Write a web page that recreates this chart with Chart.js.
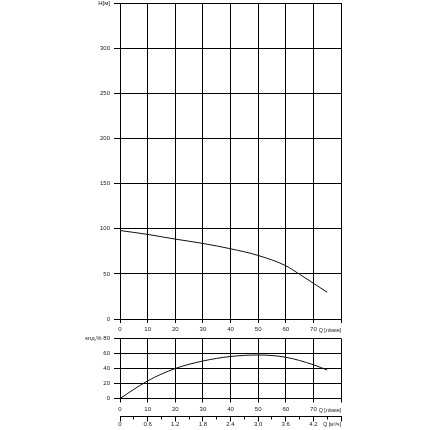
<!DOCTYPE html>
<html>
<head>
<meta charset="utf-8">
<script src="https://cdn.jsdelivr.net/npm/chart.js"></script>
<style>
  html, body { margin: 0; padding: 0; background: #fff; overflow: hidden; }
  canvas { position: absolute; left: 0; }
  #headChart { top: 0; }
  #effChart { top: 333px; }
</style>
</head>
<body>
<canvas id="headChart" width="430" height="335"></canvas>
<canvas id="effChart" width="430" height="97"></canvas>
<script>
// Pump curve: head and efficiency against flow (l/min)
const headFlow = [0, 10, 20, 30, 40, 50, 60, 65, 70, 75];
const headM = [98, 93.7, 88.5, 83.7, 77.8, 70.4, 59, 49.5, 39.6, 29.6];
const effFlow = [0, 10, 20, 30, 40, 50, 60, 70, 75];
const effPct = [0, 23.5, 40, 50, 56, 58, 55, 45, 38];

const flowTitle = 'Q [л/мин]';
const cubicTitle = 'Q [м³/ч]';
const headTopLabel = 'H[м]';
const effTopLabel = 'кпд,% 80';

const ink = '#000';
const textInk = '#1a1a1a';
const family = '"Liberation Sans", Arial, sans-serif';
const tickFont = { family: family, size: 6, lineHeight: 1.2 };
const yTickFont = { family: family, size: 6, lineHeight: 1 };
const titleFont = { family: family, size: 5.2, lineHeight: 1.2 };

function points(xs, ys) {
    return xs.map(function (x, i) { return { x: x, y: ys[i] }; });
}

function curve(xs, ys) {
    return {
        data: points(xs, ys),
        showLine: true,
        borderColor: '#111',
        borderWidth: 1,
        pointRadius: 0,
        cubicInterpolationMode: 'monotone'
    };
}

function flowAxis(height, pad, titlePad) {
    return {
        type: 'linear', min: 0, max: 80, weight: 0,
        ticks: {
            stepSize: 10, autoSkip: false, maxRotation: 0, padding: pad,
            color: textInk, font: tickFont,
            callback: function (v) { return v < 80 ? v : ''; }
        },
        grid: { color: ink, lineWidth: 1, tickLength: 4 },
        border: { color: ink },
        title: { display: true, text: flowTitle, align: 'end', color: textInk, font: titleFont, padding: { top: 0, bottom: titlePad } },
        afterFit: function (s) { s.height = height; }
    };
}

function valueAxis(max, step, topLabel) {
    return {
        min: 0, max: max,
        ticks: {
            stepSize: step, padding: 4, color: textInk, font: yTickFont,
            callback: function (v) { return v === max ? topLabel : v; }
        },
        grid: { color: ink, lineWidth: 1, tickLength: 6 },
        border: { color: ink },
        afterFit: function (s) {
            s.width = 120;
            // let layout.padding decide where the plot starts
            s.paddingTop = 0;
            s.paddingBottom = 0;
        }
    };
}

var quiet = { legend: { display: false }, tooltip: { enabled: false } };

new Chart(document.getElementById('headChart'), {
    type: 'scatter',
    data: { datasets: [curve(headFlow, headM)] },
    options: {
        responsive: false,
        animation: false,
        events: [],
        layout: { padding: { top: 3, right: 89, left: 0, bottom: 0 } },
        plugins: quiet,
        scales: {
            x: flowAxis(16, 3, 1.6),
            y: valueAxis(350, 50, headTopLabel)
        }
    }
});

var cubicAxis = {
    type: 'linear', position: 'bottom', weight: 1, min: 0, max: 80,
    ticks: {
        stepSize: 5, autoSkip: false, maxRotation: 0, padding: -1,
        color: textInk, font: tickFont,
        callback: function (v) {
            if (v % 10 !== 0 || v >= 80) return '';
            return v === 0 ? '0' : (v * 0.06).toFixed(1);
        }
    },
    grid: {
        drawOnChartArea: false, color: ink, tickLength: 5,
        tickBorderDash: function (ctx) {
            return ctx.tick && ctx.tick.value % 10 !== 0 ? [2.5, 20] : [];
        }
    },
    border: { color: ink },
    title: { display: true, text: cubicTitle, align: 'end', color: textInk, font: titleFont, padding: { top: 0, bottom: 2.6 } },
    afterFit: function (s) { s.height = 13.5; }
};

new Chart(document.getElementById('effChart'), {
    type: 'scatter',
    data: { datasets: [curve(effFlow, effPct)] },
    options: {
        responsive: false,
        animation: false,
        events: [],
        layout: { padding: { top: 5.5, right: 89, left: 0, bottom: 0 } },
        plugins: quiet,
        scales: {
            x: flowAxis(18, 3.5, 3.1),
            x2: cubicAxis,
            y: valueAxis(80, 20, effTopLabel)
        }
    }
});
</script>
</body>
</html>
